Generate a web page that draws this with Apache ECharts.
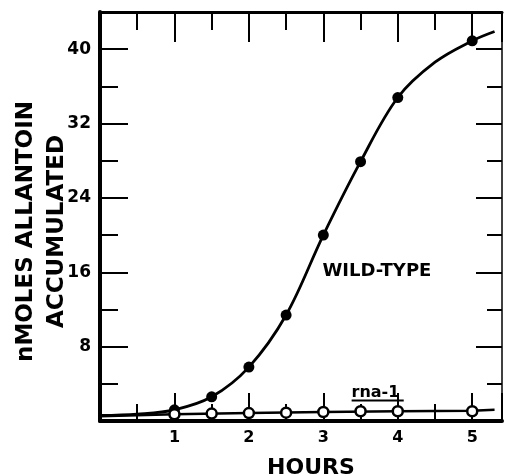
<!DOCTYPE html>
<html>
<head>
<meta charset="utf-8">
<script src="https://cdn.jsdelivr.net/npm/echarts@6/dist/echarts.min.js"></script>
<style>
html,body{margin:0;padding:0;background:#fff;}
#chart{width:506px;height:476px;}
</style>
</head>
<body>
<div id="chart"></div>
<script>
// Measured points
const hours = [1, 1.5, 2, 2.5, 3, 3.5, 4, 5];
const wildType = [1.2, 2.6, 5.8, 11.4, 20.0, 27.9, 34.8, 40.9];
const rna1 = [0.72, 0.8, 0.85, 0.9, 0.97, 1.05, 1.05, 1.05];
// Fitted curves as drawn
const wildCurveX = [0, 0.5, 1, 1.5, 2, 2.5, 3, 3.5, 4, 4.5, 5, 5.3];
const wildCurveY = [0.6, 0.75, 1.2, 2.6, 5.8, 11.4, 20, 27.9, 34.8, 38.6, 40.9, 41.9];
const rnaLineX = [0, 1, 2, 3, 4, 5, 5.3];
const rnaLineY = [0.5, 0.72, 0.87, 0.97, 1.05, 1.1, 1.2];
// Tick labels
const xTickLabels = [1, 2, 3, 4, 5];
const yTickLabels = [8, 16, 24, 32, 40];
// Annotations
const wildLabel = {text: 'WILD-TYPE', x: 3.72, y: 16.1};
const rnaLabel = {text: 'rna-1', x: 3.70, y: 3.0};
const rnaUnderlineX = [3.38, 4.08];
const rnaUnderlineY = 2.2;

const zip = (xs, ys) => xs.map((x, i) => [x, ys[i]]);
const FONT = 'DejaVu Sans';

const chart = echarts.init(document.getElementById('chart'), null, {renderer: 'canvas'});
const baseX = {
  type: 'value', min: 0, max: 5.4, interval: 1,
  splitLine: {show: false}
};
const baseY = {
  type: 'value', min: 0, max: 44, interval: 8,
  splitLine: {show: false}
};
chart.setOption({
  animation: false,
  backgroundColor: '#fff',
  grid: {left: 100, right: 4, top: 12, bottom: 55, outerBoundsMode: 'none', containLabel: false},
  xAxis: [
    Object.assign({}, baseX, {
      position: 'bottom',
      name: 'HOURS', nameLocation: 'middle', nameGap: 36, nameMoveOverlap: false,
      nameTextStyle: {fontFamily: FONT, fontWeight: 'bold', fontSize: 22, color: '#000', padding: [0, 0, 0, 20]},
      axisLine: {show: true, onZero: false, lineStyle: {color: '#000', width: 4}},
      axisTick: {show: true, inside: true, length: 28, lineStyle: {color: '#000', width: 2}},
      minorTick: {show: true, splitNumber: 2, length: 17, lineStyle: {color: '#000', width: 2}},
      axisLabel: {
        margin: 9, fontFamily: FONT, fontWeight: 'bold', fontSize: 16, color: '#000',
        formatter: v => xTickLabels.includes(v) ? String(v) : ''
      }
    }),
    Object.assign({}, baseX, {
      position: 'top',
      axisLine: {show: true, onZero: false, lineStyle: {color: '#000', width: 3}},
      axisTick: {show: true, inside: true, length: 30, lineStyle: {color: '#000', width: 2}},
      minorTick: {show: true, splitNumber: 2, length: 18, lineStyle: {color: '#000', width: 2}},
      axisLabel: {show: false}
    })
  ],
  yAxis: [
    Object.assign({}, baseY, {
      position: 'left',
      name: 'nMOLES ALLANTOIN\nACCUMULATED', nameLocation: 'middle', nameGap: 27, nameRotate: 90,
      nameMoveOverlap: false,
      nameTextStyle: {fontFamily: FONT, fontWeight: 'bold', fontSize: 23, color: '#000', lineHeight: 31, padding: [0, 30, 0, 0]},
      axisLine: {show: true, onZero: false, lineStyle: {color: '#000', width: 4}},
      axisTick: {show: true, inside: true, length: 28, lineStyle: {color: '#000', width: 2}},
      minorTick: {show: true, splitNumber: 2, length: 18, lineStyle: {color: '#000', width: 2}},
      axisLabel: {
        margin: 9, fontFamily: FONT, fontWeight: 'bold', fontSize: 17, color: '#000',
        formatter: v => yTickLabels.includes(v) ? String(v) : ''
      }
    }),
    Object.assign({}, baseY, {
      position: 'right',
      axisLine: {show: true, onZero: false, lineStyle: {color: '#000', width: 1.5}},
      axisTick: {show: true, inside: true, length: 26, lineStyle: {color: '#000', width: 2}},
      minorTick: {show: true, splitNumber: 2, length: 15, lineStyle: {color: '#000', width: 2}},
      axisLabel: {show: false}
    })
  ],
  series: [
    {
      name: 'wild-type curve', type: 'line', xAxisIndex: 0, yAxisIndex: 0,
      data: zip(wildCurveX, wildCurveY), smooth: 0.35,
      showSymbol: false, symbol: 'none',
      lineStyle: {color: '#000', width: 2.8}, z: 2
    },
    {
      name: 'rna-1 line', type: 'line', xAxisIndex: 0, yAxisIndex: 0,
      data: zip(rnaLineX, rnaLineY), smooth: false,
      showSymbol: false, symbol: 'none',
      lineStyle: {color: '#000', width: 2.5}, z: 2
    },
    {
      name: 'WILD-TYPE', type: 'scatter', xAxisIndex: 0, yAxisIndex: 0,
      data: zip(hours, wildType), symbol: 'circle', symbolSize: 11,
      itemStyle: {color: '#000', opacity: 1}, z: 4
    },
    {
      name: 'rna-1', type: 'scatter', xAxisIndex: 0, yAxisIndex: 0,
      data: zip(hours, rna1), symbol: 'circle', symbolSize: 10,
      itemStyle: {color: '#fff', borderColor: '#000', borderWidth: 2.5, opacity: 1}, z: 5
    },
    {
      name: 'labels', type: 'scatter', xAxisIndex: 0, yAxisIndex: 0,
      symbolSize: 0, silent: true, z: 6,
      itemStyle: {opacity: 1},
      data: [
        {value: [wildLabel.x, wildLabel.y], label: {show: true, position: 'inside', formatter: wildLabel.text,
          fontFamily: FONT, fontWeight: 'bold', fontSize: 18, color: '#000', textBorderWidth: 0, opacity: 1}},
        {value: [rnaLabel.x, rnaLabel.y], label: {show: true, position: 'inside', formatter: rnaLabel.text,
          fontFamily: FONT, fontWeight: 'bold', fontSize: 16, color: '#000', textBorderWidth: 0, opacity: 1}}
      ]
    },
    {
      name: 'underline', type: 'line', xAxisIndex: 0, yAxisIndex: 0,
      data: rnaUnderlineX.map(x => [x, rnaUnderlineY]),
      showSymbol: false, symbol: 'none', lineStyle: {color: '#000', width: 2}, z: 6
    }
  ]
});
</script>
</body>
</html>
